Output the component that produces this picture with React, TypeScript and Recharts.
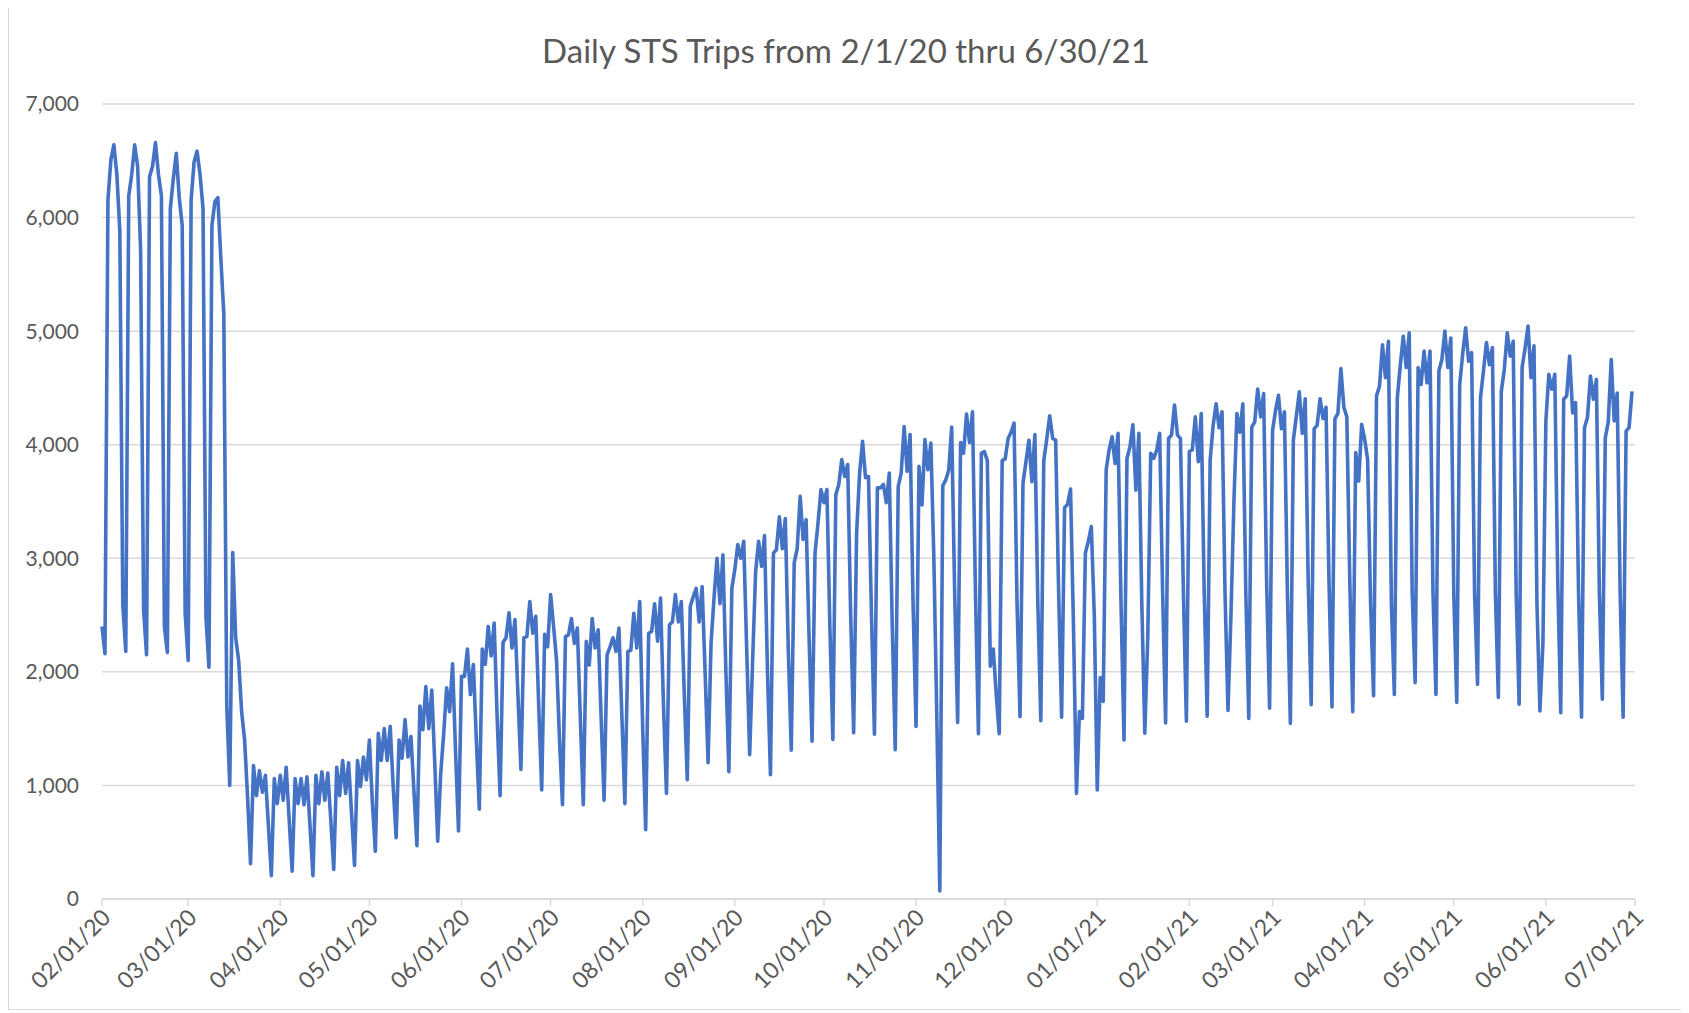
import React from 'react';
import { LineChart, Line, XAxis, YAxis, CartesianGrid } from 'recharts';

// daily trip counts, one row per week starting on Saturday (2/1/20 was a Saturday)
const tripsPerDay: number[] = [
  2400, 2160, 6155, 6510, 6640, 6380, 5880,
  2590, 2180, 6190, 6380, 6640, 6450, 5710,
  2550, 2150, 6360, 6450, 6660, 6380, 6190,
  2400, 2170, 6080, 6340, 6565, 6175, 5930,
  2510, 2100, 6155, 6490, 6585, 6380, 6080,
  2475, 2040, 5930, 6140, 6175, 5640, 5150,
  1700, 1000, 3050, 2300, 2100, 1650, 1400,
  900, 310, 1175, 910, 1130, 940, 1090,
  650, 205, 1060, 840, 1090, 870, 1160,
  700, 245, 1060, 840, 1060, 830, 1075,
  650, 205, 1090, 840, 1120, 870, 1110,
  700, 260, 1160, 910, 1220, 930, 1200,
  750, 295, 1220, 990, 1250, 1050, 1400,
  850, 420, 1460, 1220, 1500, 1220, 1520,
  1000, 540, 1400, 1240, 1580, 1250, 1430,
  950, 470, 1700, 1490, 1870, 1500, 1840,
  1200, 510, 1100, 1450, 1860, 1650, 2070,
  1300, 600, 1960, 1960, 2200, 1800, 2065,
  1400, 790, 2200, 2065, 2400, 2140, 2430,
  1600, 910, 2260, 2300, 2520, 2210, 2460,
  1800, 1140, 2300, 2310, 2620, 2340, 2490,
  1700, 960, 2330, 2220, 2680, 2400, 2100,
  1400, 830, 2310, 2325, 2470, 2250, 2385,
  1600, 830, 2270, 2060, 2470, 2210, 2370,
  1600, 870, 2150, 2220, 2300, 2180, 2385,
  1600, 840, 2180, 2190, 2515, 2210, 2620,
  1500, 610, 2340, 2355, 2600, 2270, 2650,
  1700, 930, 2415, 2440, 2680, 2440, 2620,
  1800, 1050, 2575, 2660, 2735, 2440, 2750,
  2000, 1200, 2250, 2650, 3000, 2600, 3030,
  2000, 1120, 2735, 2900, 3120, 3000, 3150,
  2200, 1270, 2100, 2880, 3150, 2930, 3200,
  2000, 1095, 3045, 3075, 3365, 3085, 3350,
  2200, 1310, 2960, 3085, 3545, 3165, 3340,
  2300, 1390, 3045, 3310, 3605, 3490, 3605,
  2400, 1405, 3560, 3650, 3870, 3720, 3825,
  2500, 1465, 3220, 3750, 4030, 3710, 3720,
  2500, 1450, 3620, 3620, 3650, 3490, 3750,
  2400, 1315, 3630, 3750, 4160, 3765, 4090,
  2600, 1520, 3810, 3470, 4045, 3780, 4015,
  3000, 1600, 70, 3640, 3690, 3775, 4155,
  2700, 1555, 4020, 3925, 4270, 4020, 4290,
  2700, 1455, 3925, 3940, 3860, 2050, 2200,
  1800, 1455, 3860, 3875, 4055, 4110, 4190,
  2600, 1605, 3660, 3850, 4040, 3675, 4090,
  2600, 1570, 3860, 4050, 4255, 4055, 4040,
  2700, 1600, 3445, 3475, 3610, 2400, 930,
  1650, 1590, 3045, 3150, 3280, 2500, 960,
  1950, 1740, 3780, 3955, 4070, 3835, 4100,
  2600, 1400, 3880, 3980, 4175, 3600, 4100,
  2600, 1460, 2300, 3925, 3880, 3950, 4100,
  2700, 1550, 4055, 4085, 4350, 4085, 4055,
  2700, 1565, 3940, 3955, 4245, 3850, 4275,
  2700, 1610, 3865, 4170, 4360, 4150, 4290,
  2700, 1660, 2500, 3500, 4275, 4110, 4360,
  2700, 1590, 4155, 4200, 4490, 4245, 4450,
  2800, 1680, 4125, 4300, 4435, 4140, 4290,
  2700, 1545, 4040, 4250, 4465, 4100, 4405,
  2800, 1710, 4140, 4170, 4405, 4230, 4330,
  2800, 1690, 4230, 4275, 4670, 4330, 4245,
  2800, 1650, 3930, 3680, 4180, 4050, 3870,
  2600, 1790, 4430, 4515, 4880, 4590, 4910,
  2600, 1800, 4415, 4700, 4955, 4680, 4985,
  2700, 1905, 4680, 4530, 4825, 4545, 4825,
  2700, 1800, 4650, 4750, 5000, 4680, 4940,
  2700, 1730, 4530, 4800, 5030, 4735, 4810,
  2700, 1890, 4415, 4650, 4900, 4705, 4855,
  2700, 1775, 4470, 4660, 4985, 4780, 4910,
  2700, 1715, 4680, 4850, 5045, 4590, 4870,
  2600, 1655, 2245, 4210, 4620, 4490, 4620,
  2800, 1640, 4400, 4430, 4780, 4280, 4370,
  2700, 1600, 4150, 4240, 4605, 4400, 4575,
  2700, 1760, 4060, 4200, 4750, 4210, 4455,
  2700, 1600, 4120, 4150, 4470,
];

// day index (from 2/1/20) of each month start, and its label
const monthTickDays = [0, 29, 60, 90, 121, 151, 182, 213, 243, 274, 304, 335, 366, 394, 425, 455, 486, 516];
const monthTickLabels = [
  '02/01/20', '03/01/20', '04/01/20', '05/01/20', '06/01/20', '07/01/20', '08/01/20', '09/01/20', '10/01/20',
  '11/01/20', '12/01/20', '01/01/21', '02/01/21', '03/01/21', '04/01/21', '05/01/21', '06/01/21', '07/01/21',
];
const yTicks = [0, 1000, 2000, 3000, 4000, 5000, 6000, 7000];

const data = tripsPerDay.map((trips, day) => ({ day, trips }));

const FONT = 'Lato, "Open Sans", sans-serif';
const TEXT_COLOR = '#595959';
const GRID_COLOR = '#d9d9d9';

const MonthTick = (props: any) => {
  const { x, y, payload } = props;
  const label = monthTickLabels[monthTickDays.indexOf(payload.value)];
  return (
    <g transform={`translate(${x + 10},${y + 11})`}>
      <text x={0} y={0} textAnchor="end" fill={TEXT_COLOR} fontSize={23} fontFamily={FONT} transform="rotate(-45)">
        {label}
      </text>
    </g>
  );
};

const App: React.FC = () => {
  return (
    <div
      style={{
        position: 'relative',
        width: 1674,
        height: 1004,
        marginTop: -4,
        border: `1px solid ${GRID_COLOR}`,
        background: '#fff',
        fontFamily: FONT,
      }}
    >
      <div
        style={{
          position: 'absolute',
          top: 27,
          left: 0,
          width: '100%',
          textAlign: 'center',
          fontSize: 33,
          lineHeight: '36px',
          color: TEXT_COLOR,
        }}
      >
        Daily STS Trips from 2/1/20 thru 6/30/21
      </div>
      <LineChart width={1674} height={1004} data={data} margin={{ top: 99, right: 48, bottom: 0, left: 0 }}>
        <CartesianGrid vertical={false} stroke={GRID_COLOR} strokeWidth={1.5} />
        <XAxis
          dataKey="day"
          type="number"
          domain={[0, 516]}
          ticks={monthTickDays}
          interval={0}
          height={110}
          tickSize={7}
          tick={<MonthTick />}
          stroke={GRID_COLOR}
          strokeWidth={1.5}
        />
        <YAxis
          type="number"
          domain={[0, 7000]}
          ticks={yTicks}
          width={93}
          axisLine={false}
          tickLine={false}
          tickSize={0}
          tickMargin={23}
          tickFormatter={(v: number) => v.toLocaleString('en-US')}
          tick={{ fill: TEXT_COLOR, fontSize: 21, fontFamily: FONT }}
        />
        <Line
          type="linear"
          dataKey="trips"
          stroke="#4472c4"
          strokeWidth={3.6}
          dot={false}
          strokeLinejoin="round"
          isAnimationActive={false}
        />
      </LineChart>
    </div>
  );
};

export default App;
